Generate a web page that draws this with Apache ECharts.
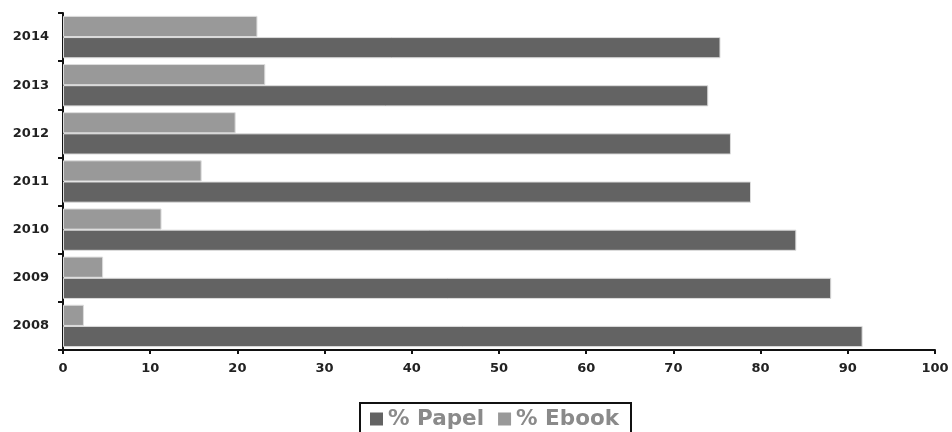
<!DOCTYPE html>
<html>
<head>
<meta charset="utf-8">
<script src="https://cdn.jsdelivr.net/npm/echarts@6/dist/echarts.min.js"></script>
<style>html,body{margin:0;padding:0;background:#fff}#c{width:952px;height:432px}</style>
</head>
<body>
<div id="c"></div>
<script>
const years = ['2008', '2009', '2010', '2011', '2012', '2013', '2014'];
const papel = [91.7, 88.1, 84.1, 78.9, 76.6, 74.0, 75.4];
const ebook = [2.4, 4.6, 11.3, 15.9, 19.8, 23.2, 22.3];
const xTicks = [0, 10, 20, 30, 40, 50, 60, 70, 80, 90, 100];

const FONT = '"DejaVu Sans", Arial, sans-serif';
const chart = echarts.init(document.getElementById('c'), null, {renderer: 'canvas'});
chart.setOption({
  animation: false,
  backgroundColor: '#ffffff',
  grid: {left: 63, right: 17, top: 13, bottom: 82, containLabel: false},
  legend: {
    data: ['% Papel', '% Ebook'],
    left: 360, top: 403,
    padding: [5, 12, 5, 10],
    itemGap: 14, itemTextGap: 8,
    itemWidth: 13, itemHeight: 13,
    icon: 'rect',
    itemStyle: {borderWidth: 0},
    borderColor: '#111', borderWidth: 2,
    textStyle: {fontFamily: FONT, fontWeight: 'bold', fontSize: 21.5, color: '#8a8a8a'}
  },
  xAxis: {
    type: 'value', min: xTicks[0], max: xTicks[xTicks.length - 1], interval: 10,
    splitLine: {show: false},
    axisLine: {show: true, lineStyle: {color: '#111', width: 2}},
    axisTick: {show: true, length: 4, lineStyle: {color: '#111', width: 2}},
    axisLabel: {margin: 12, fontFamily: FONT, fontWeight: 'bold', fontSize: 13, color: '#222'}
  },
  yAxis: {
    type: 'category', data: years, boundaryGap: true,
    axisLine: {show: true, lineStyle: {color: '#111', width: 2}},
    axisTick: {show: true, length: 5, lineStyle: {color: '#111', width: 2}},
    axisLabel: {margin: 14, fontFamily: FONT, fontWeight: 'bold', fontSize: 13, color: '#222'}
  },
  series: [
    {name: '% Ebook', type: 'bar', data: ebook, barGap: '0%', barCategoryGap: '12%',
     itemStyle: {color: '#999999', borderColor: '#dcdcdc', borderWidth: 1}},
    {name: '% Papel', type: 'bar', data: papel, barGap: '0%', barCategoryGap: '12%',
     itemStyle: {color: '#636363', borderColor: '#dcdcdc', borderWidth: 1}}
  ]
});
</script>
</body>
</html>
